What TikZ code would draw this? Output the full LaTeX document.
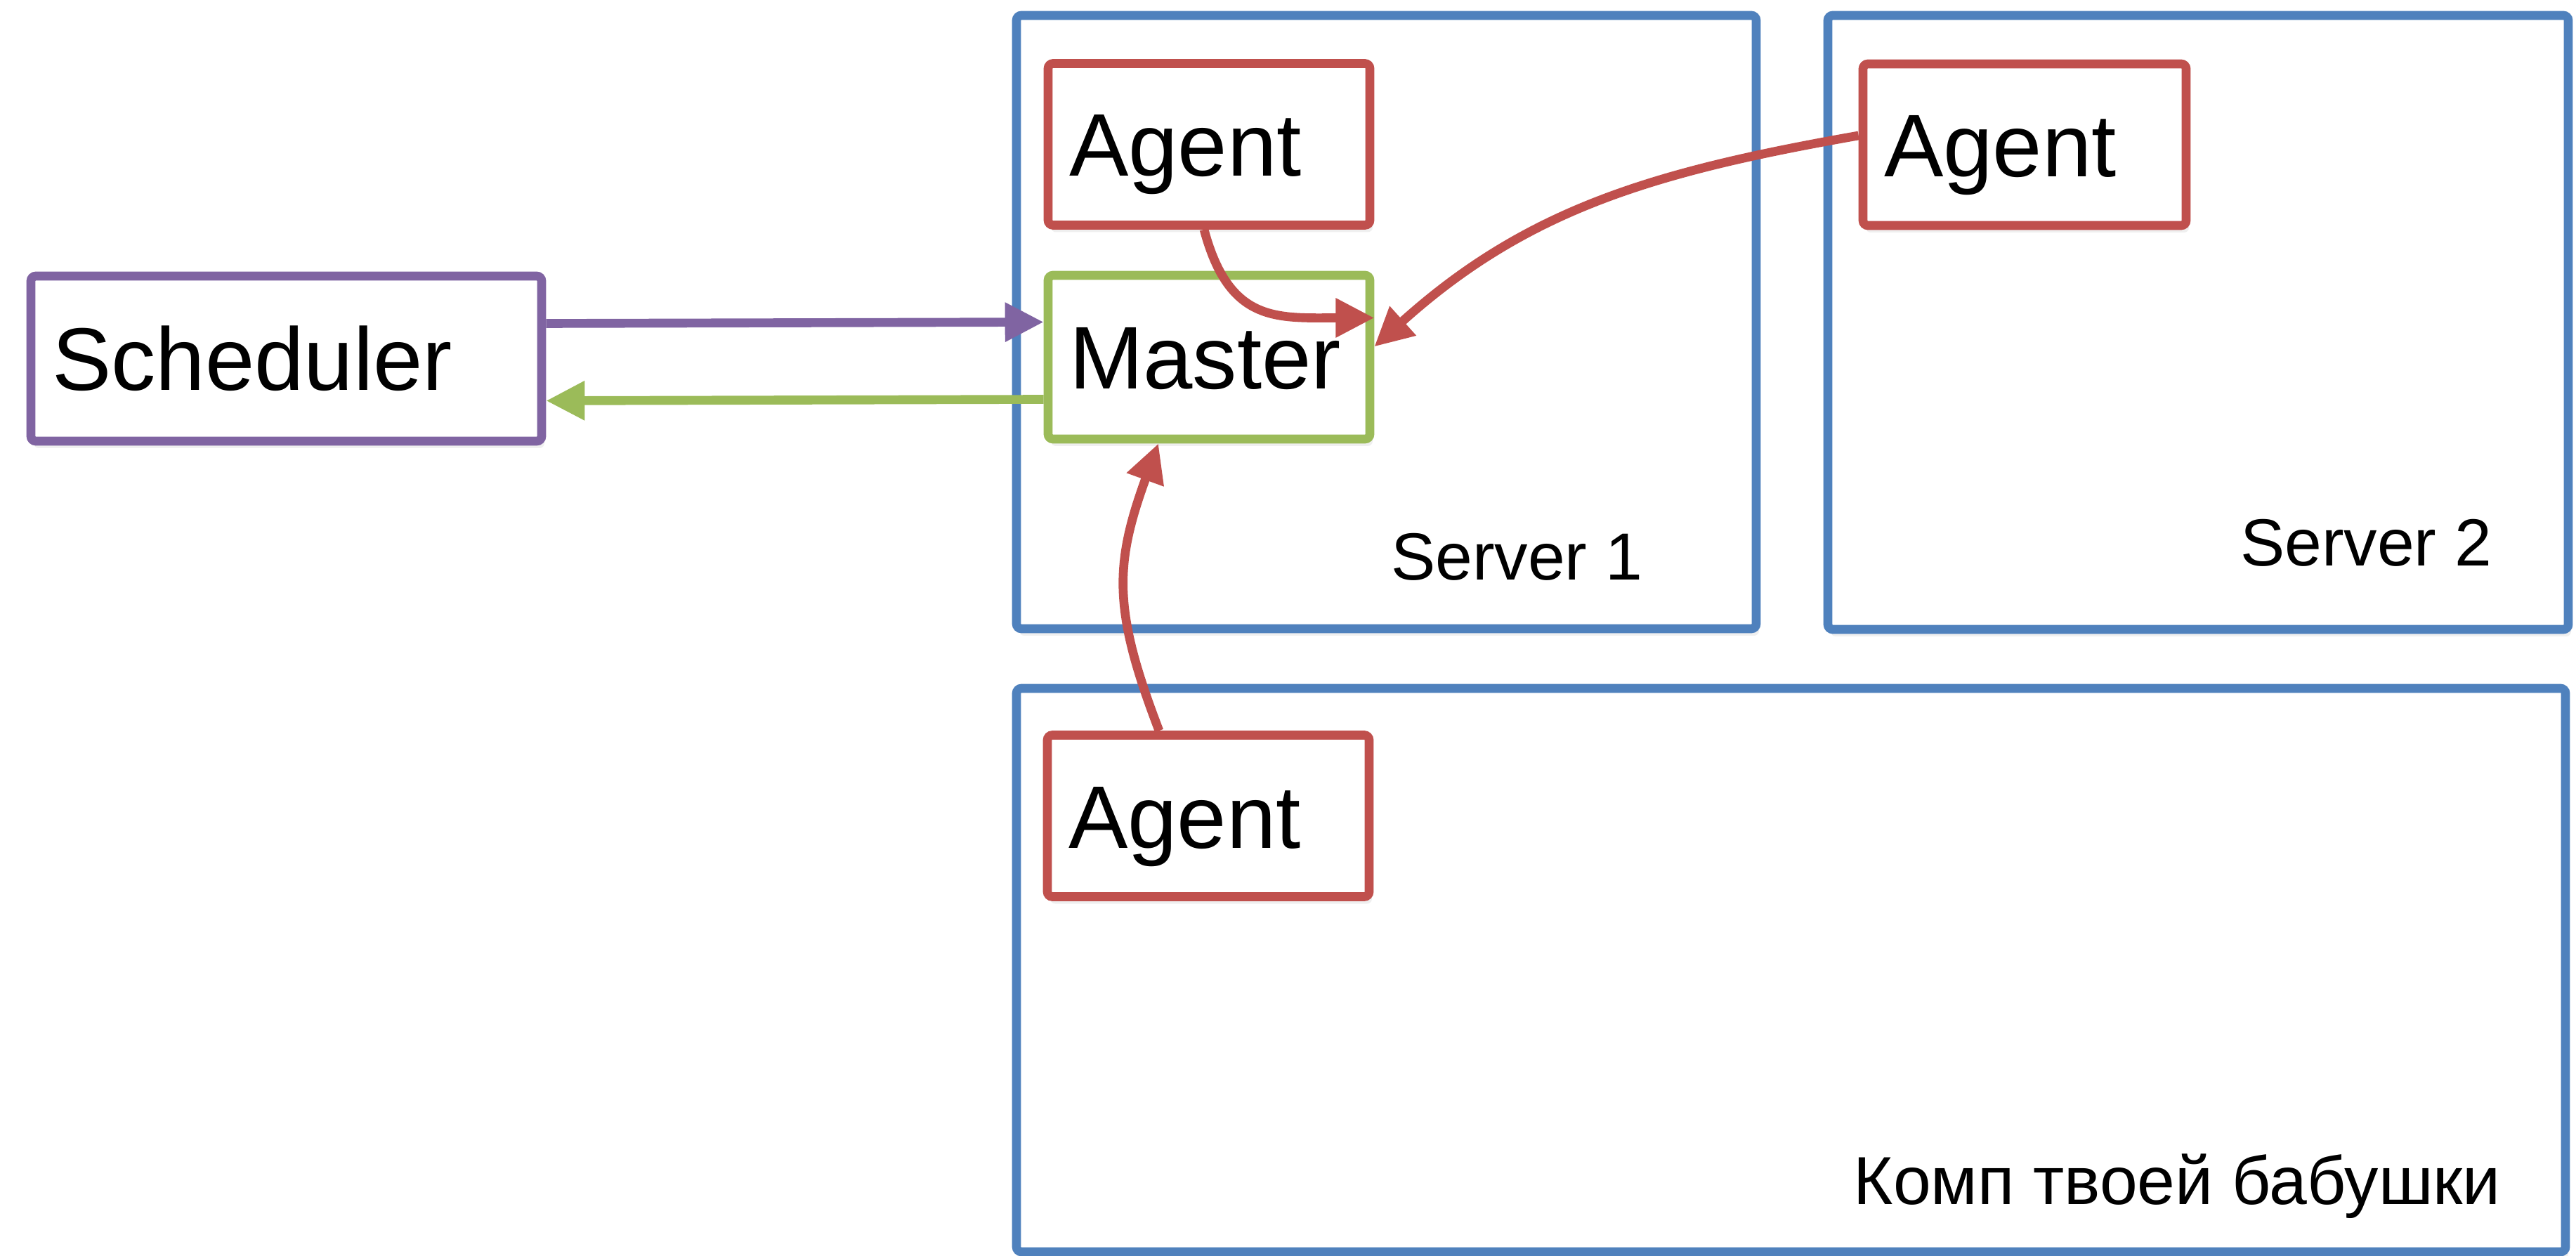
\documentclass[tikz,border=0pt]{standalone}
\usepackage{fontspec}
\setmainfont{Liberation Sans}
\usetikzlibrary{arrows.meta, positioning, shadows}
\definecolor{srvblue}{HTML}{4F81BD}
\definecolor{agentred}{HTML}{C0504D}
\definecolor{mastergreen}{HTML}{9BBB59}
\definecolor{schedpurple}{HTML}{8064A2}

\begin{document}
\begin{tikzpicture}[>={Triangle[length=0.55cm, width=0.53cm]}, line width=3.6pt,
	every node/.style={font=\fontsize{36}{40}\selectfont},
	hostbox/.style={draw=srvblue, fill=white, rounded corners=2pt, inner sep=0pt,
		drop shadow={opacity=0.12, shadow xshift=0.04cm, shadow yshift=-0.1cm}},
	procbox/.style={draw=#1, fill=white, rounded corners=2pt, minimum height=2.3cm,
		text width=3.98cm, inner xsep=0.3cm, inner ysep=0pt, align=left,
		text height=0.91cm, text depth=0pt,
		drop shadow={opacity=0.12, shadow xshift=0.04cm, shadow yshift=-0.1cm}},
	hostlabel/.style={anchor=base east, font=\fontsize{27}{30}\selectfont, inner sep=0pt}]
	\useasboundingbox (0,0) rectangle (36.67,-17.88);
	
	% Machines
	\node[hostbox, minimum width=10.53cm, minimum height=8.73cm] (srv1) at (19.735,-4.585) {};
	\node[hostbox, minimum width=10.54cm, minimum height=8.74cm] (srv2) at (31.29,-4.59) {};
	\node[hostbox, minimum width=22.05cm, minimum height=8.02cm] (komp) at (25.495,-13.81) {};
	\node[hostlabel] (srv1lbl) at (23.45,-8.26) {Server 1};
	\node[hostlabel] (srv2lbl) at (35.54,-8.06) {Server 2};
	\node[hostlabel, font=\fontsize{27.5}{30}\selectfont] (komplbl) at (35.66,-17.14) {Комп твоей бабушки};
	
	% Processes
	\node[procbox=agentred] (agent1) at (17.21,-2.055) {Agent};
	\node[procbox=mastergreen, minimum height=2.33cm] (master) at (17.21,-5.085) {Master};
	\node[procbox=agentred, text width=4.0cm] (agent2) at (28.82,-2.06) {Agent};
	\node[procbox=agentred] (agent3) at (17.2,-11.615) {Agent};
	\node[procbox=schedpurple, text width=6.67cm, minimum height=2.35cm] (sched) at (4.075,-5.105) {Scheduler};
	
	% Scheduler and master
	\draw[->, schedpurple] ([yshift=0.5cm]sched.east) -- ([yshift=0.5cm]master.west);
	\draw[->, mastergreen] ([yshift=-0.6cm]master.west) -- ([yshift=-0.6cm]sched.east);
	
	% Edges from agents
	\draw[->, agentred] ([xshift=-0.07cm]agent1.south) to[out=-75, in=180, looseness=1.3] ([yshift=0.56cm]master.east);
	\draw[->, agentred] ([yshift=0.13cm]agent2.west) to[out=190, in=42] ([yshift=0.15cm]master.east);
	\draw[->, agentred] ([xshift=-0.7cm]agent3.north) to[out=111, in=250, looseness=1.15] ([xshift=-0.72cm]master.south);
\end{tikzpicture}
\end{document}
